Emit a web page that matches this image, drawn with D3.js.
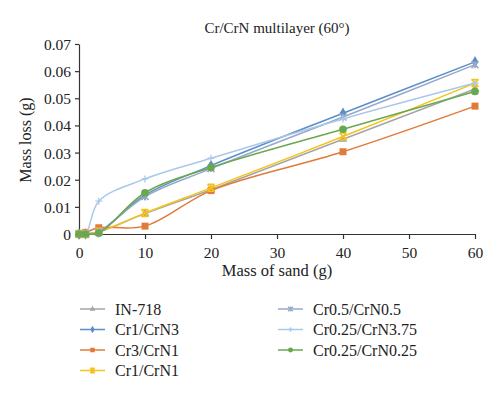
<!DOCTYPE html>
<html>
<head>
<meta charset="utf-8">
<script src="https://cdn.jsdelivr.net/npm/d3@7"></script>
<style>
  body { margin: 0; background: #fff; }
  svg text { font-family: "Liberation Serif", "DejaVu Serif", serif; fill: #222; }
</style>
</head>
<body>
<div id="chart"></div>
<script>
const massOfSand = [0, 1, 3, 10, 20, 40, 60]
const seriesNames = ['IN-718', 'Cr1/CrN3', 'Cr3/CrN1', 'Cr1/CrN1', 'Cr0.5/CrN0.5', 'Cr0.25/CrN3.75', 'Cr0.25/CrN0.25']
const in718 = [0, 0, 0.0008, 0.0075, 0.0163, 0.0349, 0.0534]
const cr1CrN3 = [0, 0, 0.0008, 0.0143, 0.0252, 0.0445, 0.0634]
const cr3CrN1 = [0, 0.0006, 0.0023, 0.0029, 0.016, 0.0303, 0.0471]
const cr1CrN1 = [0, 0, 0.0008, 0.0077, 0.017, 0.0359, 0.0556]
const cr05CrN05 = [0, 0, 0.0008, 0.0138, 0.0241, 0.0431, 0.0624]
const cr025CrN375 = [0, 0, 0.0121, 0.0203, 0.0279, 0.0424, 0.0556]
const cr025CrN025 = [0, 0, 0.0003, 0.0152, 0.0245, 0.0386, 0.0525]
const xTicks = [0, 10, 20, 30, 40, 50, 60]
const yTicks = [0, 0.01, 0.02, 0.03, 0.04, 0.05, 0.06, 0.07]

const allValues = [in718, cr1CrN3, cr3CrN1, cr1CrN1, cr05CrN05, cr025CrN375, cr025CrN025]
const colors = ['#a5a5a5', '#5b8ec8', '#e07b39', '#f5c218', '#97a9c9', '#a9c8ea', '#6aa84f']
const markers = ['triangle', 'diamond', 'square', 'x', 'star', 'plus', 'circle']

let width = 500
let height = 398
let margin = {left: 79, right: 25, top: 44, bottom: 164}

let svg = d3.select('#chart')
  .append('svg')
    .attr('width', width)
    .attr('height', height)

let xScale = d3.scaleLinear()
  .domain([0, 60])
  .range([margin.left, width - margin.right])

let yScale = d3.scaleLinear()
  .domain([0, 0.07])
  .range([height - margin.bottom, margin.top])

// title
svg.append('text')
  .attr('x', 277)
  .attr('y', 33)
  .attr('text-anchor', 'middle')
  .style('font-size', '15px')
  .text('Cr/CrN multilayer (60\u00b0)')

// axes
let xAxis = svg.append('g')
  .attr('transform', 'translate(0,' + yScale(0) + ')')
  .call(d3.axisBottom(xScale).tickValues(xTicks).tickSize(5).tickSizeOuter(0))
let yAxis = svg.append('g')
  .attr('transform', 'translate(' + xScale(0) + ',0)')
  .call(d3.axisLeft(yScale).tickValues(yTicks).tickSize(4).tickSizeOuter(0)
    .tickFormat(d => d === 0 ? '0' : d3.format('.2f')(d)))

svg.selectAll('.domain, .tick line').attr('stroke', '#333').attr('stroke-width', 1.2)
xAxis.selectAll('text').style('font-size', '15.5px').attr('dy', '1.05em').attr('fill', '#222')
yAxis.selectAll('text').style('font-size', '15.5px').attr('x', -8).attr('dy', '0.35em').attr('fill', '#222')

svg.append('text')
  .attr('x', 277)
  .attr('y', 276)
  .attr('text-anchor', 'middle')
  .style('font-size', '16.5px')
  .text('Mass of sand (g)')

svg.append('text')
  .attr('transform', 'translate(31,140) rotate(-90)')
  .attr('text-anchor', 'middle')
  .style('font-size', '16px')
  .text('Mass loss (g)')

let drawMarker = (g, type, color, size) => {
  if (type === 'circle') {
    g.append('circle').attr('r', size * 0.55).attr('fill', color)
  } else if (type === 'square') {
    g.append('rect').attr('x', -size / 2).attr('y', -size / 2)
      .attr('width', size).attr('height', size).attr('fill', color)
  } else if (type === 'diamond') {
    g.append('path').attr('d', d3.symbol(d3.symbolDiamond, size * size * 0.8)()).attr('fill', color)
  } else if (type === 'triangle') {
    g.append('path').attr('d', d3.symbol(d3.symbolTriangle, size * size * 0.7)()).attr('fill', color)
  } else if (type === 'x') {
    let s = size / 2
    g.append('path').attr('d', `M${-s},${-s}L${s},${s}M${-s},${s}L${s},${-s}M${-s},${-s}L${s},${-s}M${-s},${s}L${s},${s}`)
      .attr('stroke', color).attr('stroke-width', 1.5).attr('fill', 'none')
  } else if (type === 'star') {
    let s = size / 2
    g.append('path').attr('d', `M${-s},${-s}L${s},${s}M${-s},${s}L${s},${-s}M0,${-s}L0,${s}`)
      .attr('stroke', color).attr('stroke-width', 1.6).attr('fill', 'none')
  } else if (type === 'plus') {
    let s = size / 2
    g.append('path').attr('d', `M${-s},0L${s},0M0,${-s}L0,${s}`)
      .attr('stroke', color).attr('stroke-width', 1.3).attr('fill', 'none')
  }
}

let line = d3.line()
  .x((d) => xScale(d[0]))
  .y((d) => yScale(d[1]))
  .curve(d3.curveCatmullRom.alpha(0.5))

allValues.forEach((values, i) => {
  let points = massOfSand.map((x, j) => [x, values[j]])
  svg.append('path')
    .datum(points)
    .attr('d', line)
    .attr('fill', 'none')
    .attr('stroke', colors[i])
    .attr('stroke-width', 1.5)
  points.forEach((p) => {
    let g = svg.append('g').attr('transform', 'translate(' + xScale(p[0]) + ',' + yScale(p[1]) + ')')
    drawMarker(g, markers[i], colors[i], 7)
  })
})

// legend
let legend = svg.append('g')
seriesNames.forEach((name, i) => {
  let col = i < 4 ? 0 : 1
  let row = i < 4 ? i : i - 4
  let lx = col === 0 ? 80 : 278
  let ly = 309 + row * 20.5
  let g = legend.append('g').attr('transform', 'translate(' + lx + ',' + ly + ')')
  g.append('line').attr('x1', 0).attr('x2', 25).attr('y1', 0).attr('y2', 0)
    .attr('stroke', colors[i]).attr('stroke-width', 1.5)
  let m = g.append('g').attr('transform', 'translate(12.5,0)')
  drawMarker(m, markers[i], colors[i], 4.5)
  g.append('text').attr('x', 35).attr('y', 0).attr('dy', '0.35em')
    .style('font-size', '16px')
    .text(name)
})
</script>
</body>
</html>
